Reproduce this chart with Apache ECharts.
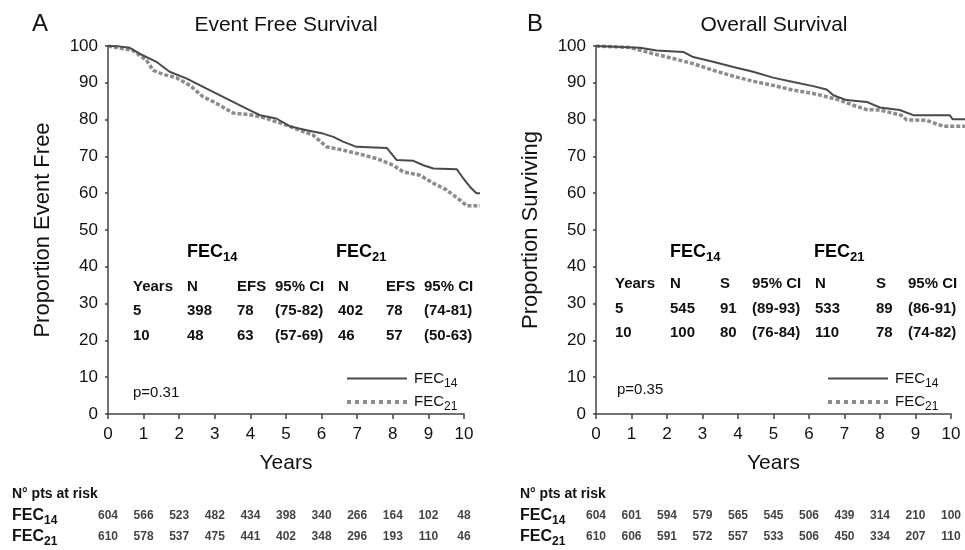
<!DOCTYPE html>
<html>
<head>
<meta charset="utf-8">
<script src="https://cdn.jsdelivr.net/npm/echarts@6/dist/echarts.min.js"></script>
<style>
html, body { margin: 0; background: #fff; }
#chart { width: 965px; height: 550px; }
</style>
</head>
<body>
<div id="chart"></div>
<script>
// Kaplan-Meier curves, values: [years, percent]
const efsFec14 = [[0,100],[0.3,99.9],[0.61,99.5],[0.89,97.9],[1.36,95.7],[1.73,93],[2.2,91.2],[2.77,88.4],[3.33,85.7],[3.89,83],[4.27,81.2],[4.73,80.3],[5.1,78.2],[5.58,77.1],[6.04,76.2],[6.33,75.3],[6.6,74],[6.98,72.6],[7.83,72.3],[8.11,69],[8.58,68.8],[8.86,67.6],[9.14,66.7],[9.8,66.5],[9.98,64],[10.17,61.7],[10.35,60],[10.45,60]];
const efsFec21 = [[0,100],[0.7,98.8],[1.08,96.1],[1.27,93.4],[1.55,92.3],[1.92,91.4],[2.3,89.3],[2.67,86.2],[3.05,84.4],[3.51,81.8],[4.08,81.2],[4.45,80.3],[5.01,78.5],[5.39,77.1],[5.76,75.8],[6.14,72.6],[6.6,71.7],[7.08,70.6],[7.55,69.4],[8.01,67.6],[8.29,65.8],[8.76,64.9],[9.14,62.7],[9.51,60.9],[9.89,58.1],[10.08,56.6],[10.45,56.6]];
const osFec14 = [[0,100],[1.24,99.5],[1.71,98.8],[2.46,98.4],[2.74,97],[3.3,95.7],[3.87,94.3],[4.43,93],[4.99,91.4],[5.56,90.2],[6.12,89.1],[6.5,88.2],[6.69,86.6],[7.06,85.3],[7.63,84.8],[8.0,83.3],[8.56,82.6],[8.94,81.2],[9.97,81.2],[10.05,80.1],[10.4,80.1]];
const osFec21 = [[0,100],[0.96,99.6],[1.61,97.9],[2.18,96.6],[2.74,95.2],[3.3,93.4],[3.87,91.8],[4.43,90.4],[4.99,89.3],[5.56,88],[6.12,87.1],[6.5,86.2],[6.87,85.3],[7.25,83.9],[7.63,82.7],[8.0,82.6],[8.3,81.9],[8.6,81.2],[8.76,79.9],[9.32,79.8],[9.6,78.8],[9.8,78.2],[10.4,78.2]];

// patients at risk, one value per year 0..10
const riskYears = [0,1,2,3,4,5,6,7,8,9,10];
const riskEfs14 = [604,566,523,482,434,398,340,266,164,102,48];
const riskEfs21 = [610,578,537,475,441,402,348,296,193,110,46];
const riskOs14 = [604,601,594,579,565,545,506,439,314,210,100];
const riskOs21 = [610,606,591,572,557,533,506,450,334,207,110];

// summary tables printed inside the plots
const efsHead = ['Years','N','EFS','95% CI','N','EFS','95% CI'];
const efsRows = [['5','398','78','(75-82)','402','78','(74-81)'],['10','48','63','(57-69)','46','57','(50-63)']];
const osHead = ['Years','N','S','95% CI','N','S','95% CI'];
const osRows = [['5','545','91','(89-93)','533','89','(86-91)'],['10','100','80','(76-84)','110','78','(74-82)']];

const FONT = '"Liberation Sans", Arial, sans-serif';
const TXT = '#111';
const SUB = {
  b: { fontSize: 16, fontWeight: 'bold', fontFamily: FONT, color: TXT },
  s: { fontSize: 12, fontWeight: 'bold', fontFamily: FONT, color: TXT, padding: [10, 0, 0, 0] },
  h: { fontSize: 18, fontWeight: 'bold', fontFamily: FONT, color: TXT },
  hs: { fontSize: 13, fontWeight: 'bold', fontFamily: FONT, color: TXT, padding: [11, 0, 0, 0] },
  n: { fontSize: 15, fontFamily: FONT, color: TXT },
  ns: { fontSize: 12, fontFamily: FONT, color: TXT, padding: [10, 0, 0, 0] }
};
const fecRich = (name, kind) => {
  const k = name.replace('FEC', '');
  if (kind === 'head') return `{h|FEC}{hs|${k}}`;
  return kind === 'bold' ? `{b|FEC}{s|${k}}` : `{n|FEC}{ns|${k}}`;
};

const chart = echarts.init(document.getElementById('chart'));

// grids 0,1: visible axes (0..10); grids 2,3: curves, same scale but run a bit past 10
function plotAxes(grid) {
  const x = {
    type: 'value', gridIndex: grid, min: 0, max: 10, interval: 1,
    name: 'Years', nameLocation: 'middle', nameGap: 39,
    nameTextStyle: { fontSize: 21, fontFamily: FONT, color: TXT },
    axisLine: { onZero: false, lineStyle: { color: '#444', width: 1.5 } },
    axisTick: { length: 5, lineStyle: { color: '#444', width: 1.5 } },
    axisLabel: { fontSize: 17, fontFamily: FONT, color: TXT, margin: 12 },
    splitLine: { show: false }
  };
  const y = {
    type: 'value', gridIndex: grid, min: 0, max: 100, interval: 10,
    name: grid === 0 ? 'Proportion Event Free' : 'Proportion Surviving',
    nameLocation: 'middle', nameGap: 54, nameRotate: 90,
    nameTextStyle: { fontSize: 22, fontFamily: FONT, color: TXT },
    axisLine: { show: true, lineStyle: { color: '#444', width: 1.5 } },
    axisTick: { show: true, length: 3, lineStyle: { color: '#444', width: 1.5 } },
    axisLabel: { fontSize: 17, fontFamily: FONT, color: TXT, margin: 10 },
    splitLine: { show: false }
  };
  return [x, y];
}

function curveAxes(grid, xmax) {
  return [
    { type: 'value', gridIndex: grid, min: 0, max: xmax, show: false },
    { type: 'value', gridIndex: grid, min: 0, max: 100, show: false }
  ];
}

function riskAxes(grid, margin) {
  const x = { type: 'value', gridIndex: grid, min: 0, max: 10, show: false };
  const y = {
    type: 'category', gridIndex: grid, data: ['FEC14', 'FEC21'], inverse: true,
    axisLine: { show: false }, axisTick: { show: false },
    axisLabel: {
      margin: margin, align: 'left',
      formatter: v => fecRich(v, 'bold'), rich: SUB
    }
  };
  return [x, y];
}

const A_MAX = 10.45, B_MAX = 10.4;
const A_W = 356, B_W = 355;

const [ax0, ay0] = plotAxes(0);
const [ax1, ay1] = plotAxes(1);
const [ax2, ay2] = curveAxes(2, A_MAX);
const [ax3, ay3] = curveAxes(3, B_MAX);
const [ax4, ay4] = riskAxes(4, 96);
const [ax5, ay5] = riskAxes(5, 76);

const solid = { color: '#4a4a4a', width: 2 };
const dotted = { color: '#8c8c8c', width: 3.5, type: [4, 2] };

function kmSeries(name, data, idx, style) {
  return {
    name: name, type: 'line', xAxisIndex: idx, yAxisIndex: idx, data: data,
    showSymbol: false, symbol: 'none', silent: true,
    lineStyle: style, itemStyle: { color: style.color }
  };
}

function riskSeries(idx, row, vals) {
  return {
    type: 'scatter', xAxisIndex: idx, yAxisIndex: idx, silent: true,
    symbolSize: 1, itemStyle: { color: 'rgba(0,0,0,0)' },
    data: riskYears.map((yr, i) => [yr, row, vals[i]]),
    label: {
      show: true, position: 'inside', formatter: p => p.value[2],
      fontSize: 12, fontWeight: 'bold', fontFamily: FONT, color: TXT
    }
  };
}

// text blocks inside the plots
function tableGraphics(cols, headY, rowYs, head, rows, fecX, fecY) {
  const out = [];
  head.forEach((h, i) => out.push({ type: 'text', x: cols[i], y: headY,
    style: { text: h, font: 'bold 15px ' + FONT, fill: TXT, textVerticalAlign: 'middle' } }));
  rows.forEach((r, j) => r.forEach((c, i) => out.push({ type: 'text', x: cols[i], y: rowYs[j],
    style: { text: c, font: 'bold 15px ' + FONT, fill: TXT, textVerticalAlign: 'middle' } })));
  ['FEC14', 'FEC21'].forEach((n, i) => out.push({ type: 'text', x: fecX[i], y: fecY,
    style: { text: fecRich(n, 'head'), rich: SUB, textVerticalAlign: 'middle' } }));
  return out;
}

const plain = (t, x, y, size) => ({ type: 'text', x: x, y: y,
  style: { text: t, font: size + 'px ' + FONT, fill: TXT, textVerticalAlign: 'middle' } });

const graphics = [
  plain('A', 32, 24, 24),
  plain('B', 527, 24, 24),
  { type: 'text', x: 286, y: 25, style: { text: 'Event Free Survival', font: '21px ' + FONT, fill: TXT, textAlign: 'center', textVerticalAlign: 'middle' } },
  { type: 'text', x: 774, y: 25, style: { text: 'Overall Survival', font: '21px ' + FONT, fill: TXT, textAlign: 'center', textVerticalAlign: 'middle' } },
  plain('p=0.31', 133, 393, 15),
  plain('p=0.35', 617, 390, 15),
  { type: 'text', x: 12, y: 494, style: { text: 'N° pts at risk', font: 'bold 14px ' + FONT, fill: TXT, textVerticalAlign: 'middle' } },
  { type: 'text', x: 520, y: 494, style: { text: 'N° pts at risk', font: 'bold 14px ' + FONT, fill: TXT, textVerticalAlign: 'middle' } }
].concat(
  tableGraphics([133,187,237,275,338,386,424], 287, [311,336], efsHead, efsRows, [187,336], 252),
  tableGraphics([615,670,720,752,815,876,908], 284, [309,333], osHead, osRows, [670,814], 252)
);

function legendAt(left) {
  return {
    orient: 'vertical', left: left, top: 366, itemWidth: 60, itemHeight: 14, itemGap: 5,
    data: ['FEC14', { name: 'FEC21', lineStyle: { type: [4, 4], width: 4 } }],
    selectedMode: false,
    itemStyle: { opacity: 0 },
    formatter: n => fecRich(n, 'normal'),
    textStyle: { rich: SUB, padding: [0, 0, 0, 2] }
  };
}

chart.setOption({
  animation: false,
  textStyle: { fontFamily: FONT },
  grid: [
    { left: 108, top: 46, width: A_W, height: 368 },
    { left: 596, top: 46, width: B_W, height: 368 },
    { left: 108, top: 46, width: A_W * A_MAX / 10, height: 368 },
    { left: 596, top: 46, width: B_W * B_MAX / 10, height: 368 },
    { left: 108, top: 505, width: A_W, height: 42 },
    { left: 596, top: 505, width: B_W, height: 42 }
  ],
  xAxis: [ax0, ax1, ax2, ax3, ax4, ax5],
  yAxis: [ay0, ay1, ay2, ay3, ay4, ay5],
  legend: [legendAt(340), legendAt(821)],
  graphic: graphics,
  series: [
    kmSeries('FEC21', efsFec21, 2, dotted),
    kmSeries('FEC14', efsFec14, 2, solid),
    kmSeries('FEC21', osFec21, 3, dotted),
    kmSeries('FEC14', osFec14, 3, solid),
    riskSeries(4, 0, riskEfs14),
    riskSeries(4, 1, riskEfs21),
    riskSeries(5, 0, riskOs14),
    riskSeries(5, 1, riskOs21)
  ]
});
</script>
</body>
</html>
